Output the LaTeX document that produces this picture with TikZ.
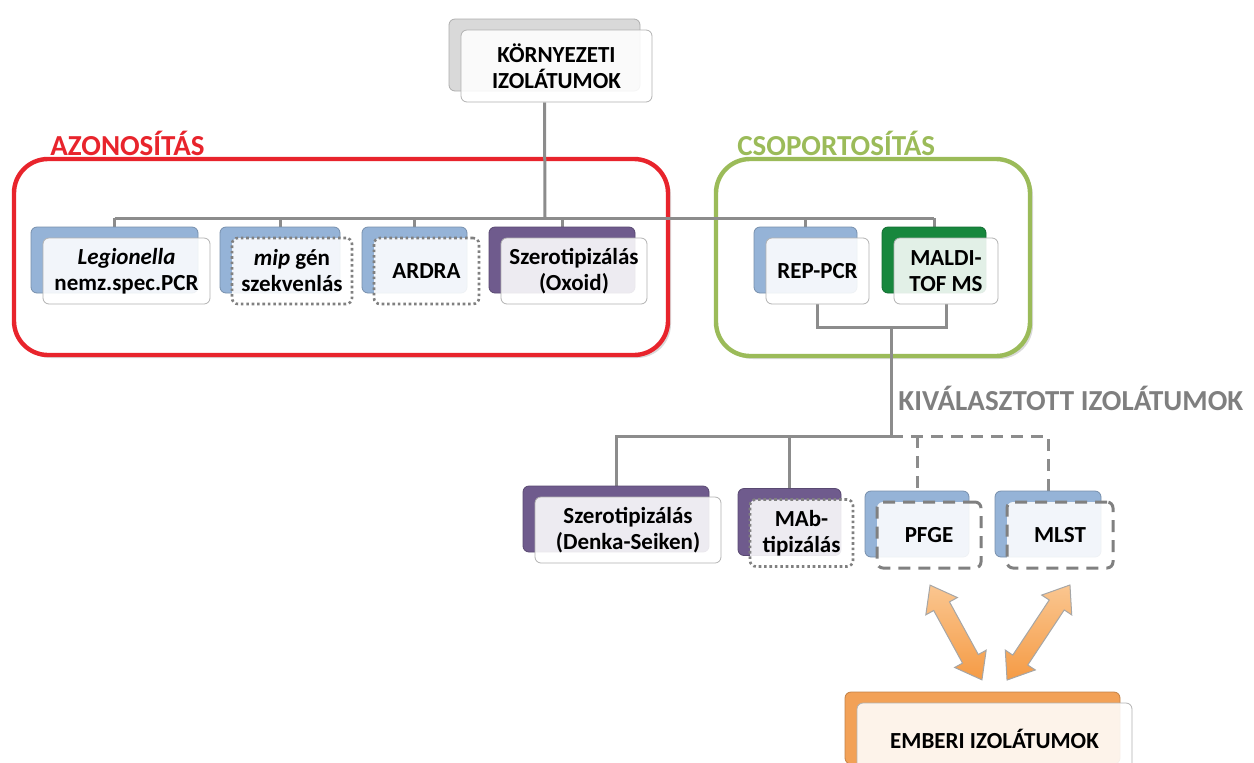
\documentclass[tikz,border=0pt]{standalone}
\usepackage{fontspec}
\setmainfont{Carlito}
\usetikzlibrary{shadows,backgrounds,positioning}

\definecolor{lineGray}{HTML}{8C8C8C}
\definecolor{boxBlue}{HTML}{95B3D7}
\definecolor{boxPurple}{HTML}{6F5B8D}
\definecolor{boxGreen}{HTML}{17873D}
\definecolor{boxOrange}{HTML}{F2A157}
\definecolor{topGray}{HTML}{D9D9D9}
\definecolor{azRed}{HTML}{E8242C}
\definecolor{csGreen}{HTML}{9BBB59}
\definecolor{kivGray}{HTML}{7F7F7F}
\definecolor{arrLight}{HTML}{FAC690}
\definecolor{arrDark}{HTML}{F59B45}

\begin{document}
\begin{tikzpicture}[x=0.5pt, y=-0.5pt,
    conn/.style={draw=lineGray, line width=1.5pt},
    dconn/.style={conn, dash pattern=on 6pt off 4pt},
    itembox/.style={draw=gray!60, fill=white, fill opacity=0.88, text opacity=1,
        rounded corners=3pt, align=center, minimum height=33pt, inner sep=2pt,
        font=\bfseries\fontsize{11.5}{13}\selectfont},
    backcopy/.style={copy shadow={shadow xshift=-6pt, shadow yshift=5.5pt,
        fill=#1, draw=#1!80!black, opacity=1, solid, line width=0.4pt}},
    dotbox/.style={draw=gray, line width=1.3pt, dash pattern=on 1.3pt off 1.4pt},
    dashbox/.style={draw=gray, line width=1.5pt, dash pattern=on 6pt off 4pt},
    groupframe/.style={line width=2.2pt, rounded corners=17pt, fill=white,
        drop shadow={shadow xshift=1.5pt, shadow yshift=-1.5pt, opacity=0.3}},
    grouplabel/.style={anchor=west, inner sep=0pt,
        font=\bfseries\fontsize{14.5}{16}\selectfont},
    fatarrow/.style={draw=gray!70, line width=0.5pt, top color=arrLight, bottom color=arrDark}]

    \useasboundingbox (0,0) rectangle (1254,762);

    % Top node
    \node[itembox, backcopy=topGray, minimum width=95.5pt, minimum height=36pt] (top) at (556.5,66) {KÖRNYEZETI\\IZOLÁTUMOK};

    % Identification
    \node[grouplabel, text=azRed] (azlab) at (50,143) {AZONOSÍTÁS};
    \node[itembox, backcopy=boxBlue, minimum width=83.5pt] (leg) at (126.5,271) {\textit{Legionella}\\nemz.spec.PCR};
    \node[itembox, dotbox, backcopy=boxBlue, minimum width=60pt] (mip) at (292,271) {\textit{mip} gén\\szekvenlás};
    \node[itembox, dotbox, backcopy=boxBlue, minimum width=52.5pt] (ardra) at (426.5,271) {ARDRA};
    \node[itembox, backcopy=boxPurple, minimum width=73pt] (oxoid) at (574,271) {Szerotipizálás\\(Oxoid)};

    % Grouping
    \node[grouplabel, text=csGreen] (cslab) at (737,143) {CSOPORTOSÍTÁS};
    \node[itembox, backcopy=boxBlue, minimum width=51.5pt] (rep) at (817.5,271) {REP-PCR};
    \node[itembox, backcopy=boxGreen, minimum width=52pt] (maldi) at (946,271) {MALDI-\\TOF MS};

    % Selected isolates
    \node[grouplabel, text=kivGray] (kivlab) at (898,398) {KIVÁLASZTOTT IZOLÁTUMOK};
    \node[itembox, backcopy=boxPurple, minimum width=93pt] (denka) at (628,530) {Szerotipizálás\\(Denka-Seiken)};
    \node[itembox, dotbox, backcopy=boxPurple, minimum width=51.5pt, minimum height=33.5pt] (mab) at (801.5,533) {MAb-\\tipizálás};
    \node[itembox, dashbox, backcopy=boxBlue, minimum width=52pt] (pfge) at (929,535) {PFGE};
    \node[itembox, dashbox, backcopy=boxBlue, minimum width=53pt] (mlst) at (1060,535) {MLST};

    % Human isolates
    \node[itembox, backcopy=boxOrange, minimum width=137.5pt, minimum height=36pt] (human) at (994.5,739) {EMBERI IZOLÁTUMOK};

    \coordinate (hubA) at (545,218);
    \coordinate (hubB) at (891,327);
    \coordinate (hubC) at (891,436);

    % Comparison arrows
    \begin{scope}[shift={(956,632.5)}, rotate=-61.3]
        \draw[fatarrow] (-54,0) -- (-30,18) -- (-30,9) -- (30,9) -- (30,18) -- (54,0)
            -- (30,-18) -- (30,-9) -- (-30,-9) -- (-30,-18) -- cycle;
    \end{scope}
    \begin{scope}[shift={(1038.5,632.5)}, rotate=-123.5]
        \draw[fatarrow] (-57,0) -- (-33,18) -- (-33,9) -- (33,9) -- (33,18) -- (57,0)
            -- (33,-18) -- (33,-9) -- (-33,-9) -- (-33,-18) -- cycle;
    \end{scope}

    \begin{scope}[on background layer]
        % Group frames
        \draw[groupframe, draw=azRed] (14,159) rectangle (668,355);
        \draw[groupframe, draw=csGreen] (716,159) rectangle (1030,356);

        % Tree
        \draw[conn] ([xshift=-6pt]top.south) -- (hubA);
        \draw[conn] ([xshift=-6pt]leg.north |- hubA) -- ([xshift=-6pt]maldi.north |- hubA);
        \foreach \n in {leg,mip,ardra,oxoid,rep,maldi}
            \draw[conn] ([xshift=-6pt]\n.north |- hubA) -- ([xshift=-6pt]\n.north);
        \draw[conn] (rep.south) |- (hubB) -| (maldi.south);
        \draw[conn] (hubB) -- (hubC) -| ([xshift=-6pt]denka.north);
        \draw[conn] ([xshift=-6pt]mab.north |- hubC) -- ([xshift=-6pt]mab.north);
        \draw[dconn] (hubC) -| ([xshift=-6pt]mlst.north);
        \draw[dconn] ([xshift=-6pt]pfge.north |- hubC) -- ([xshift=-6pt]pfge.north);
    \end{scope}
\end{tikzpicture}
\end{document}
